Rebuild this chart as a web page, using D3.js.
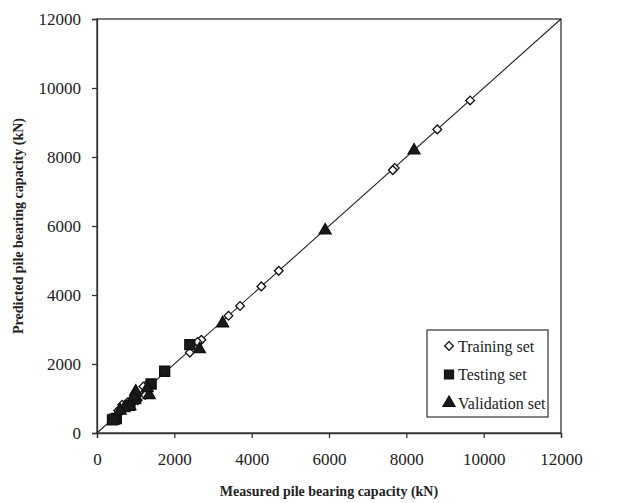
<!DOCTYPE html>
<html>
<head>
<meta charset="utf-8">
<script src="https://cdn.jsdelivr.net/npm/d3@7"></script>
<style>
  body { margin: 0; background: #fff; }
  svg text { font-family: "Liberation Serif", "Times New Roman", serif; fill: #222; }
</style>
</head>
<body>
<div id="chart"></div>
<script>
// measured vs predicted (kN)
const trainMeasured = [9650, 8800, 7700, 7650, 4700, 4250, 3700, 3400, 2700, 2600, 2400, 1300, 1250, 1200, 1050, 1000, 900, 800, 750, 700, 650, 600, 550, 500]
const trainPredicted = [9640, 8800, 7680, 7620, 4700, 4250, 3680, 3400, 2700, 2640, 2330, 1420, 1100, 1350, 950, 1050, 850, 900, 780, 700, 820, 600, 650, 500]
const testMeasured = [2400, 1750, 1400, 1000, 850, 500, 450, 400]
const testPredicted = [2560, 1790, 1420, 1000, 800, 420, 400, 380]
const validMeasured = [8200, 5900, 3250, 2650, 1350, 1300, 1000, 950, 850, 700, 600]
const validPredicted = [8190, 5870, 3180, 2430, 1100, 1300, 1200, 1050, 780, 720, 650]
const ticks = [0, 2000, 4000, 6000, 8000, 10000, 12000]
const legendLabels = ['Training set', 'Testing set', 'Validation set']

const W = 619, H = 503
const margin = { left: 97, right: 58, top: 19, bottom: 70 }

const svg = d3.select('#chart').append('svg')
  .attr('width', W)
  .attr('height', H)

const x = d3.scaleLinear().domain([0, 12000]).range([margin.left, W - margin.right])
const y = d3.scaleLinear().domain([0, 12000]).range([H - margin.bottom, margin.top])

// frame
svg.append('rect')
  .attr('x', x(0)).attr('y', y(12000))
  .attr('width', x(12000) - x(0)).attr('height', y(0) - y(12000))
  .style('fill', 'none').style('stroke', '#333').style('stroke-width', 1.3)

const xAxis = svg.append('g')
  .attr('transform', 'translate(0,' + y(0) + ')')
  .call(d3.axisBottom(x).tickValues(ticks).tickSize(5).tickPadding(15).tickFormat(d3.format('d')))
const yAxis = svg.append('g')
  .attr('transform', 'translate(' + x(0) + ',0)')
  .call(d3.axisLeft(y).tickValues(ticks).tickSize(5).tickPadding(11).tickFormat(d3.format('d')))

;[xAxis, yAxis].forEach((ax) => {
  ax.select('.domain').style('stroke', '#333').style('stroke-width', 1.3)
  ax.selectAll('.tick line').style('stroke', '#333').style('stroke-width', 1.3)
  ax.selectAll('.tick text').style('font-size', '17px').style('font-family', '"Liberation Serif", serif').attr('fill', '#222')
})

// 1:1 line
svg.append('line')
  .attr('x1', x(0)).attr('y1', y(0))
  .attr('x2', x(12000)).attr('y2', y(12000))
  .style('stroke', '#222').style('stroke-width', 1.1)

const diamond = d3.symbol().type(d3.symbolSquare).size(38)
const square = d3.symbol().type(d3.symbolSquare).size(100)
const triangle = d3.symbol().type(d3.symbolTriangle).size(62)

function plotSet(mx, py, sym, fill, rot) {
  svg.append('g').selectAll('path')
    .data(mx.map((m, i) => [m, py[i]]))
    .enter().append('path')
      .attr('d', sym)
      .attr('transform', (d) => 'translate(' + x(d[0]) + ',' + y(d[1]) + ')' + (rot ? ' rotate(45)' : ''))
      .style('fill', fill)
      .style('stroke', '#111')
      .style('stroke-width', 1.3)
}

plotSet(trainMeasured, trainPredicted, diamond, '#fff', true)
plotSet(testMeasured, testPredicted, square, '#1a1a1a', false)
plotSet(validMeasured, validPredicted, triangle, '#1a1a1a', false)

// legend
const lg = svg.append('g')
lg.append('rect')
  .attr('x', 427).attr('y', 330).attr('width', 121).attr('height', 87)
  .style('fill', '#fff').style('stroke', '#333').style('stroke-width', 1.2)
const legendSyms = [diamond, square, triangle]
legendLabels.forEach((lab, i) => {
  const cy = 346 + i * 28.5
  lg.append('path')
    .attr('d', i === 1 ? d3.symbol().type(d3.symbolSquare).size(80) : legendSyms[i])
    .attr('transform', 'translate(449,' + cy + ')' + (i === 0 ? ' rotate(45)' : ''))
    .style('fill', i === 0 ? '#fff' : '#1a1a1a')
    .style('stroke', '#111').style('stroke-width', 1.3)
  lg.append('text')
    .attr('x', 458).attr('y', cy + 5.5)
    .style('font-size', '16px')
    .text(lab)
})

// axis titles
svg.append('text')
  .attr('x', (x(0) + x(12000)) / 2).attr('y', 496)
  .attr('text-anchor', 'middle')
  .style('font-size', '14px').style('font-weight', 'bold')
  .text('Measured pile bearing capacity (kN)')
svg.append('text')
  .attr('transform', 'translate(23,' + (y(0) + y(12000)) / 2 + ') rotate(-90)')
  .attr('text-anchor', 'middle')
  .style('font-size', '14px').style('font-weight', 'bold')
  .text('Predicted pile bearing capacity (kN)')
</script>
</body>
</html>
